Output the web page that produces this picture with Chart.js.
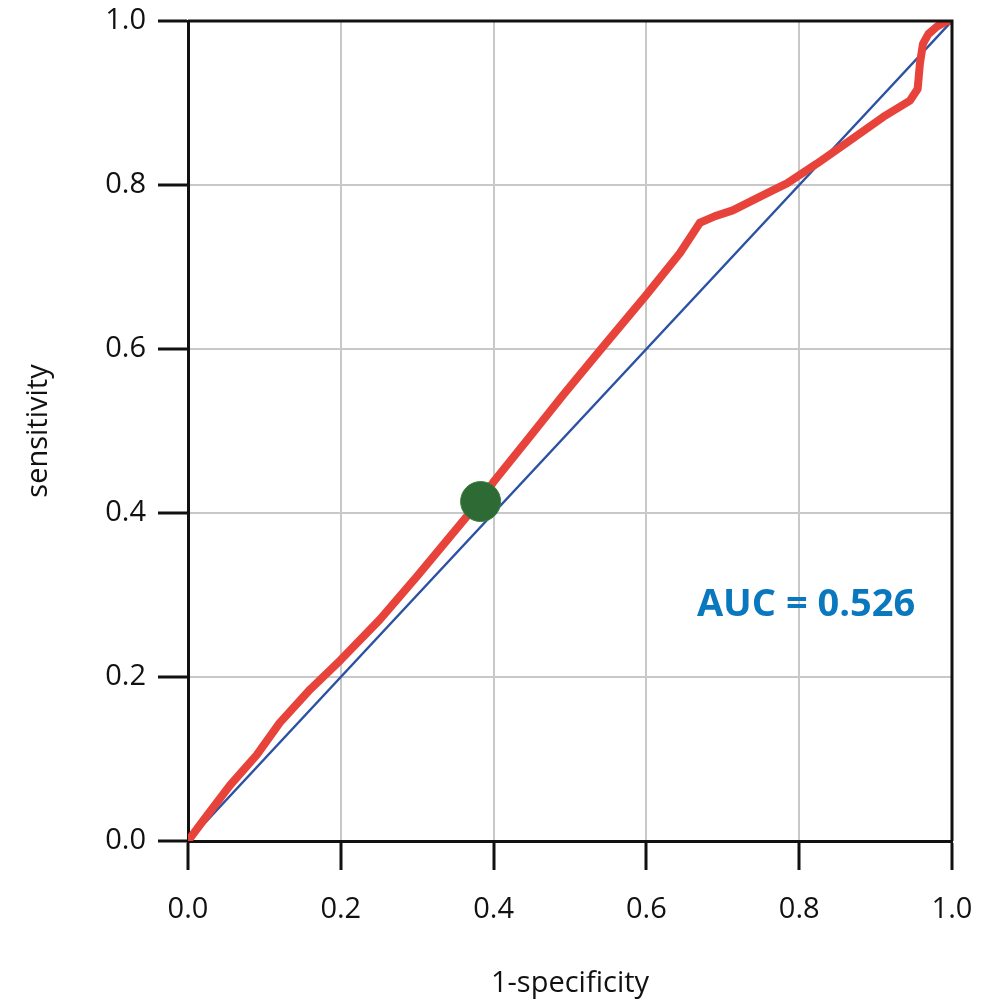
<!DOCTYPE html>
<html>
<head>
<meta charset="utf-8">
<script src="https://cdn.jsdelivr.net/npm/chart.js@4/dist/chart.umd.min.js"></script>
<style>
html,body{margin:0;padding:0;background:#fff;}
#c{display:block;}
</style>
</head>
<body>
<canvas id="c" width="993" height="1001"></canvas>
<script>
// ROC curve (red)
const rocFpr = [0, 0.02, 0.055, 0.09, 0.12, 0.16, 0.2, 0.251, 0.30, 0.383, 0.4, 0.45, 0.491, 0.539, 0.6, 0.644, 0.67, 0.69, 0.713, 0.758, 0.784, 0.823, 0.866, 0.91, 0.945, 0.955, 0.958, 0.962, 0.969, 0.98, 0.993, 1];
const rocTpr = [0, 0.025, 0.068, 0.105, 0.144, 0.185, 0.221, 0.27, 0.323, 0.416, 0.438, 0.496, 0.544, 0.598, 0.666, 0.717, 0.754, 0.762, 0.769, 0.790, 0.802, 0.826, 0.854, 0.883, 0.903, 0.917, 0.948, 0.972, 0.984, 0.993, 1.0, 1];
// reference diagonal (blue)
const refFpr = [0, 0.1, 0.2, 0.3, 0.4, 0.5, 0.6, 0.7, 0.8, 0.9, 1];
const refTpr = [0, 0.1, 0.2, 0.3, 0.4, 0.5, 0.6, 0.7, 0.8, 0.9, 1];
// optimal cut-off point (green)
const cutFpr = [0.383];
const cutTpr = [0.414];
// ticks
const tickValues = [0, 0.2, 0.4, 0.6, 0.8, 1.0];
const aucText = "AUC = 0.526";
const aucPos = [0.809, 0.288];

const toXY = (xs, ys) => xs.map((x, i) => ({x: x, y: ys[i]}));

const frame = {
  id: 'frame',
  afterDraw(chart) {
    const {ctx, chartArea: a, scales} = chart;
    ctx.save();
    ctx.strokeStyle = '#111';
    ctx.lineWidth = 3;
    ctx.beginPath();
    ctx.moveTo(a.left, a.top);
    ctx.lineTo(a.right, a.top);
    ctx.lineTo(a.right, a.bottom);
    ctx.stroke();
    ctx.fillStyle = '#0a78bf';
    ctx.font = 'bold 38px "Open Sans"';
    ctx.textAlign = 'center';
    ctx.textBaseline = 'middle';
    ctx.fillText(aucText, scales.x.getPixelForValue(aucPos[0]), scales.y.getPixelForValue(aucPos[1]));
    ctx.restore();
  }
};

const tickFont = {family: '"Open Sans"', size: 29};

new Chart(document.getElementById('c'), {
  type: 'scatter',
  data: {
    datasets: [
      {data: toXY(refFpr, refTpr), showLine: true, borderColor: '#2c52a4', borderWidth: 2.5, pointRadius: 0, order: 3},
      {data: toXY(rocFpr, rocTpr), showLine: true, borderColor: '#e8433b', borderWidth: 8, pointRadius: 0, order: 2, borderCapStyle: 'round', borderJoinStyle: 'round'},
      {data: toXY(cutFpr, cutTpr), showLine: false, backgroundColor: '#2e6a34', borderColor: '#3d7d40', borderWidth: 1, pointRadius: 20, order: 1}
    ]
  },
  options: {
    responsive: false,
    animation: false,
    devicePixelRatio: 1,
    layout: {padding: {top: 17, right: 41, left: 0, bottom: 0}},
    plugins: {legend: {display: false}, tooltip: {enabled: false}},
    scales: {
      x: {
        type: 'linear', min: 0, max: 1,
        afterFit(s) { s.height = 160; s.paddingLeft = 0; s.paddingRight = 0; },
        afterBuildTicks(s) { s.ticks = tickValues.map(v => ({value: v})); },
        border: {color: '#111', width: 3},
        grid: {color: '#c8c8c8', lineWidth: 2, tickLength: 29, tickColor: '#111', tickWidth: 3, drawOnChartArea: true},
        ticks: {color: '#111', font: tickFont, padding: 22, maxRotation: 0, callback: v => v.toFixed(1)},
        title: {display: true, text: '1-specificity', color: '#111', font: tickFont, padding: {top: 0, bottom: 0}}
      },
      y: {
        type: 'linear', min: 0, max: 1,
        afterFit(s) { s.width = 188; s.paddingTop = 0; s.paddingBottom = 0; },
        afterBuildTicks(s) { s.ticks = tickValues.map(v => ({value: v})); },
        border: {color: '#111', width: 3},
        grid: {color: '#c8c8c8', lineWidth: 2, tickLength: 30, tickColor: '#111', tickWidth: 3},
        ticks: {color: '#111', font: tickFont, padding: 12, callback: v => v.toFixed(1)},
        title: {display: true, text: 'sensitivity', color: '#111', font: tickFont, padding: {top: 21, bottom: 0}}
      }
    }
  },
  plugins: [frame]
});
</script>
</body>
</html>
